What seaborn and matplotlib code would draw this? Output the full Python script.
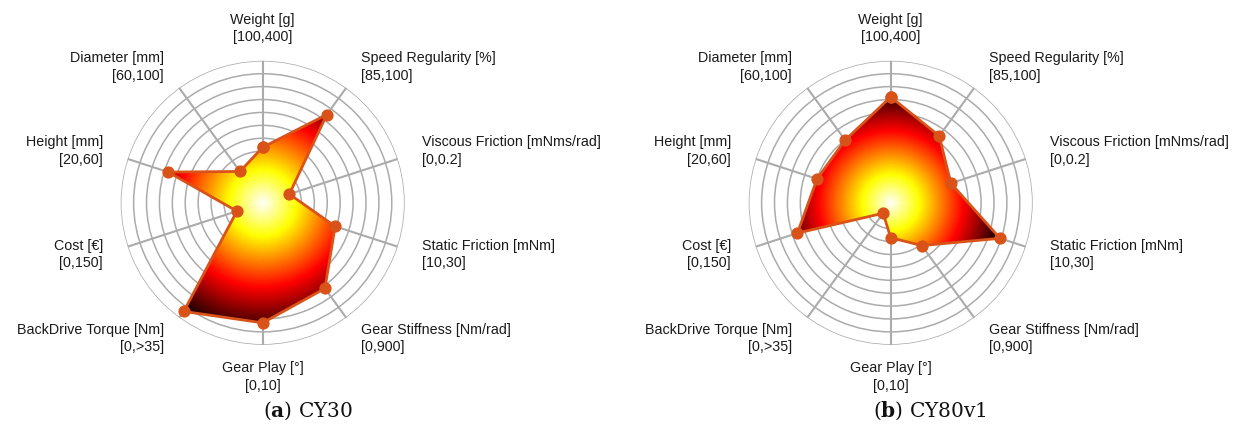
import numpy as np
import matplotlib
matplotlib.use("Agg")
import matplotlib.pyplot as plt
import seaborn as sns

# Axis definitions (clockwise from the top)
axis_names = [
    "Weight [g]", "Speed Regularity [%]", "Viscous Friction [mNms/rad]",
    "Static Friction [mNm]", "Gear Stiffness [Nm/rad]", "Gear Play [°]",
    "BackDrive Torque [Nm]", "Cost [€]", "Height [mm]", "Diameter [mm]",
]
axis_ranges = [
    "[100,400]", "[85,100]", "[0,0.2]", "[10,30]", "[0,900]",
    "[0,10]", "[0,>35]", "[0,150]", "[20,60]", "[60,100]",
]

# Normalised scores (0 = inner ring, 1 = outer ring)
cy30_scores = [0.33, 0.745, 0.117, 0.49, 0.72, 0.83, 0.94, 0.11, 0.67, 0.20]
cy80v1_scores = [0.72, 0.54, 0.39, 0.79, 0.31, 0.17, 0.0, 0.66, 0.50, 0.50]

panel_tags = ["a", "b"]
panel_names = ["CY30", "CY80v1"]

sns.set_theme(style="white")
plt.rcParams["font.family"] = ["Liberation Sans", "DejaVu Sans"]
plt.rcParams["mathtext.fontset"] = "dejavuserif"

R_MIN = -0.1          # one ring of offset between the centre and the zero ring
GRID = "#ababab"
EDGE = "#D95319"
cmap = sns.color_palette("hot_r", as_cmap=True)

W, H = 1240, 434
fig = plt.figure(figsize=(W / 100, H / 100), dpi=100)
fig.patch.set_facecolor("white")


def draw_radar(ax, scores):
    n = len(axis_names)
    theta = np.linspace(0, 2 * np.pi, n, endpoint=False)
    ax.set_theta_zero_location("N")
    ax.set_theta_direction(-1)
    ax.set_ylim(R_MIN, 1.0)
    ax.set_yticks(np.linspace(0, 1, 11))
    ax.set_yticklabels([])
    ax.set_xticks(theta)
    ax.set_xticklabels([])
    ax.spines["polar"].set_visible(False)
    ax.set_axisbelow(True)
    ax.yaxis.grid(True, color=GRID, lw=1.1)
    ax.xaxis.grid(True, color=GRID, lw=1.5)
    ax.set_facecolor("white")

    t_closed = np.append(theta, theta[0])
    v_closed = np.append(scores, scores[0])

    # polygon used as clip region for the radial colour gradient
    poly, = ax.fill(t_closed, v_closed, facecolor="none", edgecolor="none")
    rmax = max(scores)
    tt = np.linspace(0, 2 * np.pi, 361)
    rr = np.linspace(R_MIN, rmax, 160)
    T, Rg = np.meshgrid(tt, rr)
    C = (Rg - R_MIN) / (rmax - R_MIN)
    mesh = ax.pcolormesh(T, Rg, C, cmap=cmap, vmin=0, vmax=1,
                         shading="gouraud", alpha=0.9, zorder=1)
    mesh.set_clip_path(poly)

    ax.plot(t_closed, v_closed, color=EDGE, lw=2.0, marker="o", ms=7.8,
            zorder=3, clip_on=False)

    for ang, name, rng in zip(theta, axis_names, axis_ranges):
        s = np.sin(ang)
        if abs(s) < 0.05:
            ha, r = "center", 1.25
        elif s > 0:
            ha, r = "left", 1.2
        else:
            ha, r = "right", 1.2
        ax.text(ang, r, f"{name}\n{rng}", ha=ha, va="center",
                multialignment=ha, fontsize=10.3, color="#1a1a1a",
                linespacing=1.3, clip_on=False)


centres = [(262.7, 202.8), (890.7, 202.8)]
radius = 142
caption_x = [308, 930]
for i, scores in enumerate([cy30_scores, cy80v1_scores]):
    cx, cy = centres[i]
    ax = fig.add_axes([(cx - radius) / W, (H - cy - radius) / H,
                       2 * radius / W, 2 * radius / H], projection="polar")
    draw_radar(ax, scores)
    fig.text(caption_x[i] / W, 1 - 411 / H,
             rf"($\mathbf{{{panel_tags[i]}}}$) {panel_names[i]}",
             ha="center", va="center", fontsize=14.5,
             family="DejaVu Serif", color="#111111")

fig.savefig("out.png", dpi=100, facecolor="white")
